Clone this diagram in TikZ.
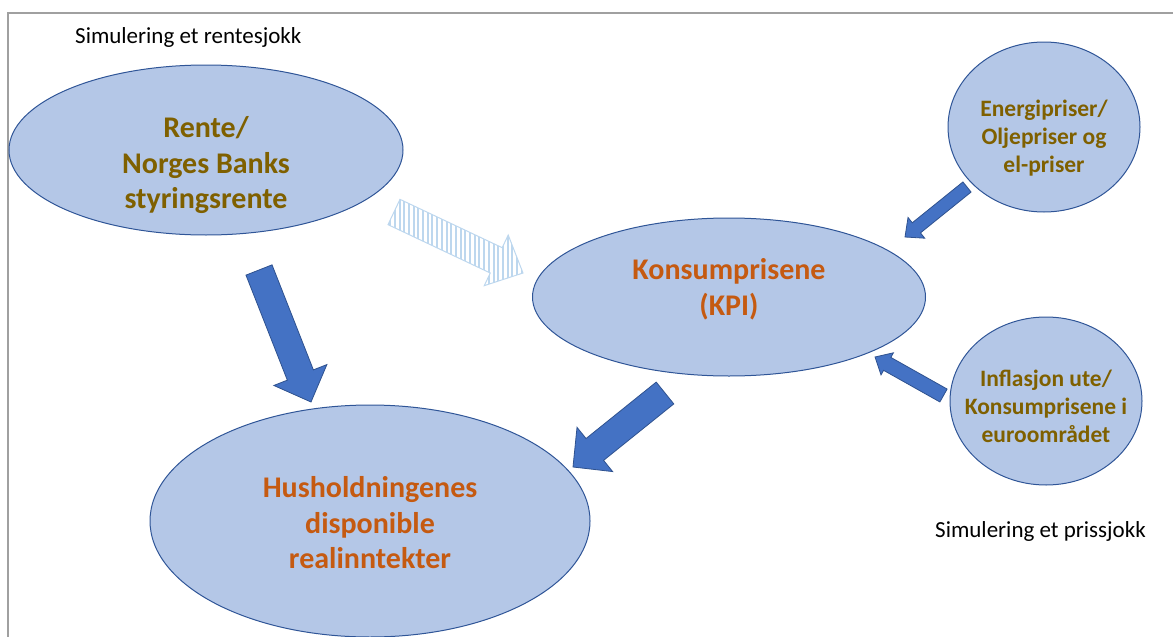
\documentclass[tikz,border=0pt]{standalone}
\usepackage{fontspec}
\setmainfont{Carlito}
\usetikzlibrary{shapes.geometric,calc,patterns.meta}

\definecolor{boblefill}{HTML}{B4C7E7}
\definecolor{bobleline}{HTML}{2F5597}
\definecolor{pilfill}{HTML}{4472C4}
\definecolor{pilline}{HTML}{2F528F}
\definecolor{stripe}{HTML}{BDD7EE}
\definecolor{brun}{HTML}{7F6000}
\definecolor{oransje}{HTML}{C55A11}
\definecolor{ramme}{HTML}{A0A0A0}

% block arrow: style, tail, tip, half shaft, half head, head length
\newcommand{\blockarrow}[6]{%
  \coordinate (#2-#3-h) at ($(#3)!#6!(#2)$);
  \path[#1] ($(#2)!#4!90:(#3)$) -- ($(#2-#3-h)!#4!-90:(#2)$) -- ($(#2-#3-h)!#5!-90:(#2)$)
    -- (#3) -- ($(#2-#3-h)!#5!90:(#2)$) -- ($(#2-#3-h)!#4!90:(#2)$) -- ($(#2)!#4!-90:(#3)$) -- cycle;}
% centred lines, moved up or down, no width so the ellipse keeps its size
\newcommand{\linjer}[2]{\makebox[0pt]{\raisebox{#1}[\height][\depth]{\begin{tabular}{@{}c@{}}#2\end{tabular}}}}

\begin{document}
\begin{tikzpicture}[x=1pt, y=-1pt]
        \tikzstyle{boble}=[ellipse, draw=bobleline, fill=boblefill, line width=1pt, inner sep=0pt]
        \tikzstyle{stor}=[font=\fontsize{30}{35.5}\selectfont\bfseries]
        \tikzstyle{liten}=[font=\fontsize{23.5}{27.8}\selectfont\bfseries]
        \tikzstyle{pil}=[fill=pilfill, draw=pilline, line width=0.8pt]
        \tikzstyle{stripepil}=[draw=stripe, line width=1pt, pattern={Lines[angle=90,distance=4.7pt,line width=2pt]}, pattern color=stripe]
        \tikzstyle{tekst}=[font=\fontsize{23}{28}\selectfont, anchor=base west, inner sep=0pt]

        \useasboundingbox (0,0) rectangle (1173,637);
        \draw[ramme, line width=2pt] (8,660) -- (8,13) -- (1190,13);

% This figure shows the two shocks and how they reach household income.

        \node[tekst] (rentesjokk) at (75,43) {Simulering et rentesjokk};
        \node[tekst] (prissjokk) at (935,537) {Simulering et prissjokk};

        \node[boble, stor, text=brun, minimum width=394pt, minimum height=170pt] (rente) at (206,150) {\linjer{-16pt}{Rente/\\Norges Banks\\styringsrente}};
        \node[boble, stor, text=oransje, minimum width=393pt, minimum height=158pt] (kpi) at (729,297) {\linjer{6.5pt}{Konsumprisene\\(KPI)}};
        \node[boble, stor, text=oransje, minimum width=440pt, minimum height=232pt] (hus) at (370,521) {\linjer{-5pt}{Husholdningenes\\disponible\\realinntekter}};
        \node[boble, liten, text=brun, minimum width=192pt, minimum height=170pt] (energi) at (1044,127) {\linjer{-12pt}{Energipriser/\\Oljepriser og\\el-priser}};
        \node[boble, liten, text=brun, minimum width=192pt, minimum height=168pt] (ute) at (1046,401) {\linjer{-8pt}{Inflasjon ute/\\Konsumprisene i\\euroområdet}};

        \coordinate (rh1) at (259,270); \coordinate (rh2) at (311,402);
        \coordinate (kh1) at (665,393); \coordinate (kh2) at (573,467);
        \coordinate (ek1) at (967,187); \coordinate (ek2) at (905,237);
        \coordinate (uk1) at (943.5,395.5); \coordinate (uk2) at (875,357);
        \coordinate (rk1) at (394,212); \coordinate (rk2) at (523,273);

        \blockarrow{pil}{rh1}{rh2}{14pt}{28.5pt}{29pt}
        \blockarrow{pil}{kh1}{kh2}{14pt}{28.4pt}{28pt}
        \blockarrow{pil}{ek1}{ek2}{6.5pt}{13.3pt}{14.6pt}
        \blockarrow{pil}{uk1}{uk2}{7.4pt}{12.7pt}{14pt}
        \blockarrow{stripepil}{rk1}{rk2}{14pt}{28pt}{29.6pt}

    \end{tikzpicture}
\end{document}
